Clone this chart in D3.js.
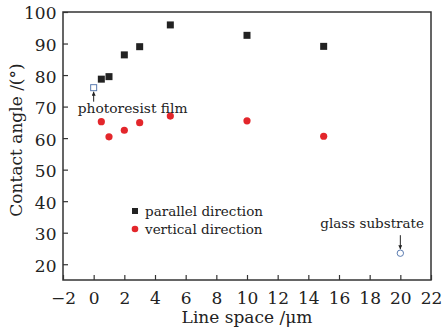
<!DOCTYPE html>
<html>
<head>
<meta charset="utf-8">
<script src="https://cdn.jsdelivr.net/npm/d3@7"></script>
<style>
  html, body { margin: 0; padding: 0; background: #fff; }
  svg text { font-family: "DejaVu Serif", serif; fill: #222; }
</style>
</head>
<body>
<svg id="chart" width="444" height="331"></svg>
<script>
// line space (um) and contact angles
const parallelX = [0.5, 1, 2, 3, 5, 10, 15];
const parallelY = [78.7, 79.5, 86.4, 89.0, 95.9, 92.6, 89.1];
const verticalX = [0.5, 1, 2, 3, 5, 10, 15];
const verticalY = [65.2, 60.4, 62.5, 64.9, 67.0, 65.5, 60.6];
const filmPoint = [0, 76.0];       // photoresist film
const glassPoint = [20, 23.5];     // glass substrate
const xTicks = [-2, 0, 2, 4, 6, 8, 10, 12, 14, 16, 18, 20, 22];
const yTicks = [20, 30, 40, 50, 60, 70, 80, 90, 100];

const svg = d3.select('#chart');
const plotLeft = 63, plotRight = 431, plotTop = 12, plotBottom = 280;

const x = d3.scaleLinear().domain([-2, 22]).range([plotLeft, plotRight]);
const y = d3.scaleLinear().domain([15, 100]).range([plotBottom, plotTop]);

// frame
svg.append('rect')
  .attr('x', plotLeft).attr('y', plotTop)
  .attr('width', plotRight - plotLeft).attr('height', plotBottom - plotTop)
  .attr('fill', 'none')
  .attr('stroke', '#333')
  .attr('stroke-width', 1.5);

// axes with inward ticks
const xAxis = svg.append('g')
  .attr('transform', `translate(0,${plotBottom})`)
  .call(d3.axisBottom(x).tickValues(xTicks).tickSizeInner(-5).tickSizeOuter(0)
    .tickFormat(d => d < 0 ? '\u22122' : d));
xAxis.select('.domain').remove();
xAxis.selectAll('line').attr('stroke', '#333').attr('stroke-width', 1.2);
xAxis.selectAll('text')
  .attr('y', 12)
  .attr('font-size', 17)
  .attr('font-family', '"DejaVu Serif", serif');

const yAxis = svg.append('g')
  .attr('transform', `translate(${plotLeft},0)`)
  .call(d3.axisLeft(y).tickValues(yTicks).tickSizeInner(-5).tickSizeOuter(0));
yAxis.select('.domain').remove();
yAxis.selectAll('line').attr('stroke', '#333').attr('stroke-width', 1.2);
yAxis.selectAll('text')
  .attr('x', -6.5)
  .attr('y', 1.5)
  .attr('font-size', 17)
  .attr('font-family', '"DejaVu Serif", serif');

// axis titles
svg.append('text')
  .attr('x', (plotLeft + plotRight) / 2)
  .attr('y', 323)
  .attr('text-anchor', 'middle')
  .attr('font-size', 17)
  .text('Line space /\u03bcm');

svg.append('text')
  .attr('transform', `translate(22,${(plotTop + plotBottom) / 2 - 6}) rotate(-90)`)
  .attr('text-anchor', 'middle')
  .attr('font-size', 17)
  .text('Contact angle /(\u00b0)');

// parallel direction - filled squares
const sq = 7;
svg.append('g')
  .selectAll('rect')
  .data(parallelX.map((d, i) => [d, parallelY[i]]))
  .enter()
  .append('rect')
  .attr('x', d => x(d[0]) - sq / 2)
  .attr('y', d => y(d[1]) - sq / 2)
  .attr('width', sq).attr('height', sq)
  .attr('fill', '#222');

// vertical direction - red dots
svg.append('g')
  .selectAll('circle')
  .data(verticalX.map((d, i) => [d, verticalY[i]]))
  .enter()
  .append('circle')
  .attr('cx', d => x(d[0]))
  .attr('cy', d => y(d[1]))
  .attr('r', 3.6)
  .attr('fill', '#e3262b');

// reference points
svg.append('rect')
  .attr('x', x(filmPoint[0]) - 3).attr('y', y(filmPoint[1]) - 3)
  .attr('width', 6).attr('height', 6)
  .attr('fill', '#fff')
  .attr('stroke', '#5a7bb0')
  .attr('stroke-width', 1);

svg.append('circle')
  .attr('cx', x(glassPoint[0])).attr('cy', y(glassPoint[1]))
  .attr('r', 3.2)
  .attr('fill', '#fff')
  .attr('stroke', '#5a7bb0')
  .attr('stroke-width', 1);

// arrows
svg.append('defs').append('marker')
  .attr('id', 'arrow')
  .attr('viewBox', '0 0 10 10')
  .attr('refX', 10).attr('refY', 5)
  .attr('markerWidth', 4).attr('markerHeight', 4)
  .attr('orient', 'auto')
  .append('path')
  .attr('d', 'M0,0L10,5L0,10z')
  .attr('fill', '#222');

const fx = x(filmPoint[0]), fy = y(filmPoint[1]);
svg.append('line')
  .attr('x1', fx).attr('y1', fy + 14)
  .attr('x2', fx).attr('y2', fy + 4)
  .attr('stroke', '#222').attr('stroke-width', 1)
  .attr('marker-end', 'url(#arrow)');

const gx = x(glassPoint[0]), gy = y(glassPoint[1]);
svg.append('line')
  .attr('x1', gx).attr('y1', gy - 18)
  .attr('x2', gx).attr('y2', gy - 4)
  .attr('stroke', '#222').attr('stroke-width', 1)
  .attr('marker-end', 'url(#arrow)');

svg.append('text')
  .attr('x', fx + 39).attr('y', fy + 25)
  .attr('text-anchor', 'middle')
  .attr('font-size', 13.8)
  .text('photoresist film');

svg.append('text')
  .attr('x', 424).attr('y', gy - 25)
  .attr('text-anchor', 'end')
  .attr('font-size', 13.5)
  .text('glass substrate');

// legend
const legend = svg.append('g').attr('transform', 'translate(135,211)');
legend.append('rect')
  .attr('x', -3).attr('y', -3).attr('width', 6).attr('height', 6)
  .attr('fill', '#222');
legend.append('text')
  .attr('x', 10).attr('y', 4.5)
  .attr('font-size', 13.5)
  .text('parallel direction');
legend.append('circle')
  .attr('cx', 0).attr('cy', 18).attr('r', 3.3)
  .attr('fill', '#e3262b');
legend.append('text')
  .attr('x', 10).attr('y', 22.5)
  .attr('font-size', 13.5)
  .text('vertical direction');
</script>
</body>
</html>
